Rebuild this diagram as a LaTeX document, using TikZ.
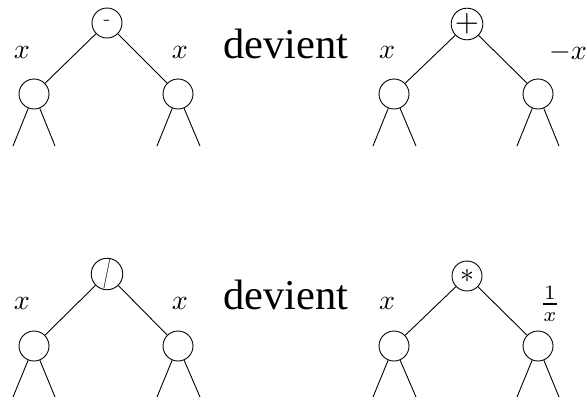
\documentclass[tikz,border=0pt]{standalone}
\usepackage{fontspec}
\newfontfamily\timesfont{Liberation Serif}
\newcommand{\bigmath}[2]{\scalebox{#1}{$#2$}}
\begin{document}
\begin{tikzpicture}[x=1pt,y=-1pt,
  nd/.style={draw,circle,minimum size=30pt,inner sep=0pt,line width=0.9pt},
  edge/.style={line width=0.9pt},
  lbl/.style={inner sep=0pt},
  big/.style={inner sep=0pt,font=\timesfont\fontsize{42.5}{46}\selectfont}]
\useasboundingbox (0,0) rectangle (587,400);
% ---------- top-left tree ----------
\node[nd] (a) at (107,23) {\fontsize{22}{22}\selectfont -};
\node[nd] (al) at (34,94) {};
\node[nd] (ar) at (178,94) {};
\coordinate (al1) at (13,146); \coordinate (al2) at (55,146);
\coordinate (ar1) at (157,146); \coordinate (ar2) at (200,146);
\draw[edge] (a) -- (al); \draw[edge] (a) -- (ar);
\draw[edge] (al) -- (al1); \draw[edge] (al) -- (al2);
\draw[edge] (ar) -- (ar1); \draw[edge] (ar) -- (ar2);
\node[lbl] (ax1) at (22,52) {\bigmath{2.8}{x}};
\node[lbl] (ax2) at (180,52) {\bigmath{2.8}{x}};
\node[big,anchor=base] (dv1) at (286,58) {devient};
% ---------- top-right tree ----------
\node[nd] (b) at (467,24) {\bigmath{3.1}{+}};
\node[nd] (bl) at (394,94) {};
\node[nd] (br) at (538,94) {};
\coordinate (bl1) at (373,146); \coordinate (bl2) at (416,146);
\coordinate (br1) at (517,146); \coordinate (br2) at (559,146);
\draw[edge] (b) -- (bl); \draw[edge] (b) -- (br);
\draw[edge] (bl) -- (bl1); \draw[edge] (bl) -- (bl2);
\draw[edge] (br) -- (br1); \draw[edge] (br) -- (br2);
\node[lbl] (bx1) at (387,52) {\bigmath{2.8}{x}};
\node[lbl,anchor=east] (bx2) at (587,52) {\bigmath{2.8}{-x}};
% ---------- bottom-left tree ----------
\node[nd] (c) at (107,274) {\raisebox{-4pt}{\scalebox{1}[1.7]{\fontsize{18}{18}\selectfont /}}};
\node[nd] (cl) at (34,346) {};
\node[nd] (cr) at (178,346) {};
\coordinate (cl1) at (13,397); \coordinate (cl2) at (55,397);
\coordinate (cr1) at (157,397); \coordinate (cr2) at (200,397);
\draw[edge] (c) -- (cl); \draw[edge] (c) -- (cr);
\draw[edge] (cl) -- (cl1); \draw[edge] (cl) -- (cl2);
\draw[edge] (cr) -- (cr1); \draw[edge] (cr) -- (cr2);
\node[lbl] (cx1) at (22,303) {\bigmath{2.8}{x}};
\node[lbl] (cx2) at (180,303) {\bigmath{2.8}{x}};
\node[big,anchor=base] (dv2) at (286,309) {devient};
% ---------- bottom-right tree ----------
\node[nd] (d) at (467,276) {\raisebox{-3pt}{\bigmath{2.8}{\ast}}};
\node[nd] (dl) at (394,346) {};
\node[nd] (dr) at (538,346) {};
\coordinate (dl1) at (373,397); \coordinate (dl2) at (416,397);
\coordinate (dr1) at (517,397); \coordinate (dr2) at (559,397);
\draw[edge] (d) -- (dl); \draw[edge] (d) -- (dr);
\draw[edge] (dl) -- (dl1); \draw[edge] (dl) -- (dl2);
\draw[edge] (dr) -- (dr1); \draw[edge] (dr) -- (dr2);
\node[lbl] (dx1) at (387,303) {\bigmath{2.8}{x}};
\node[lbl] (dx2) at (550,304) {\bigmath{2.9}{\frac{1}{x}}};
\end{tikzpicture}
\end{document}
